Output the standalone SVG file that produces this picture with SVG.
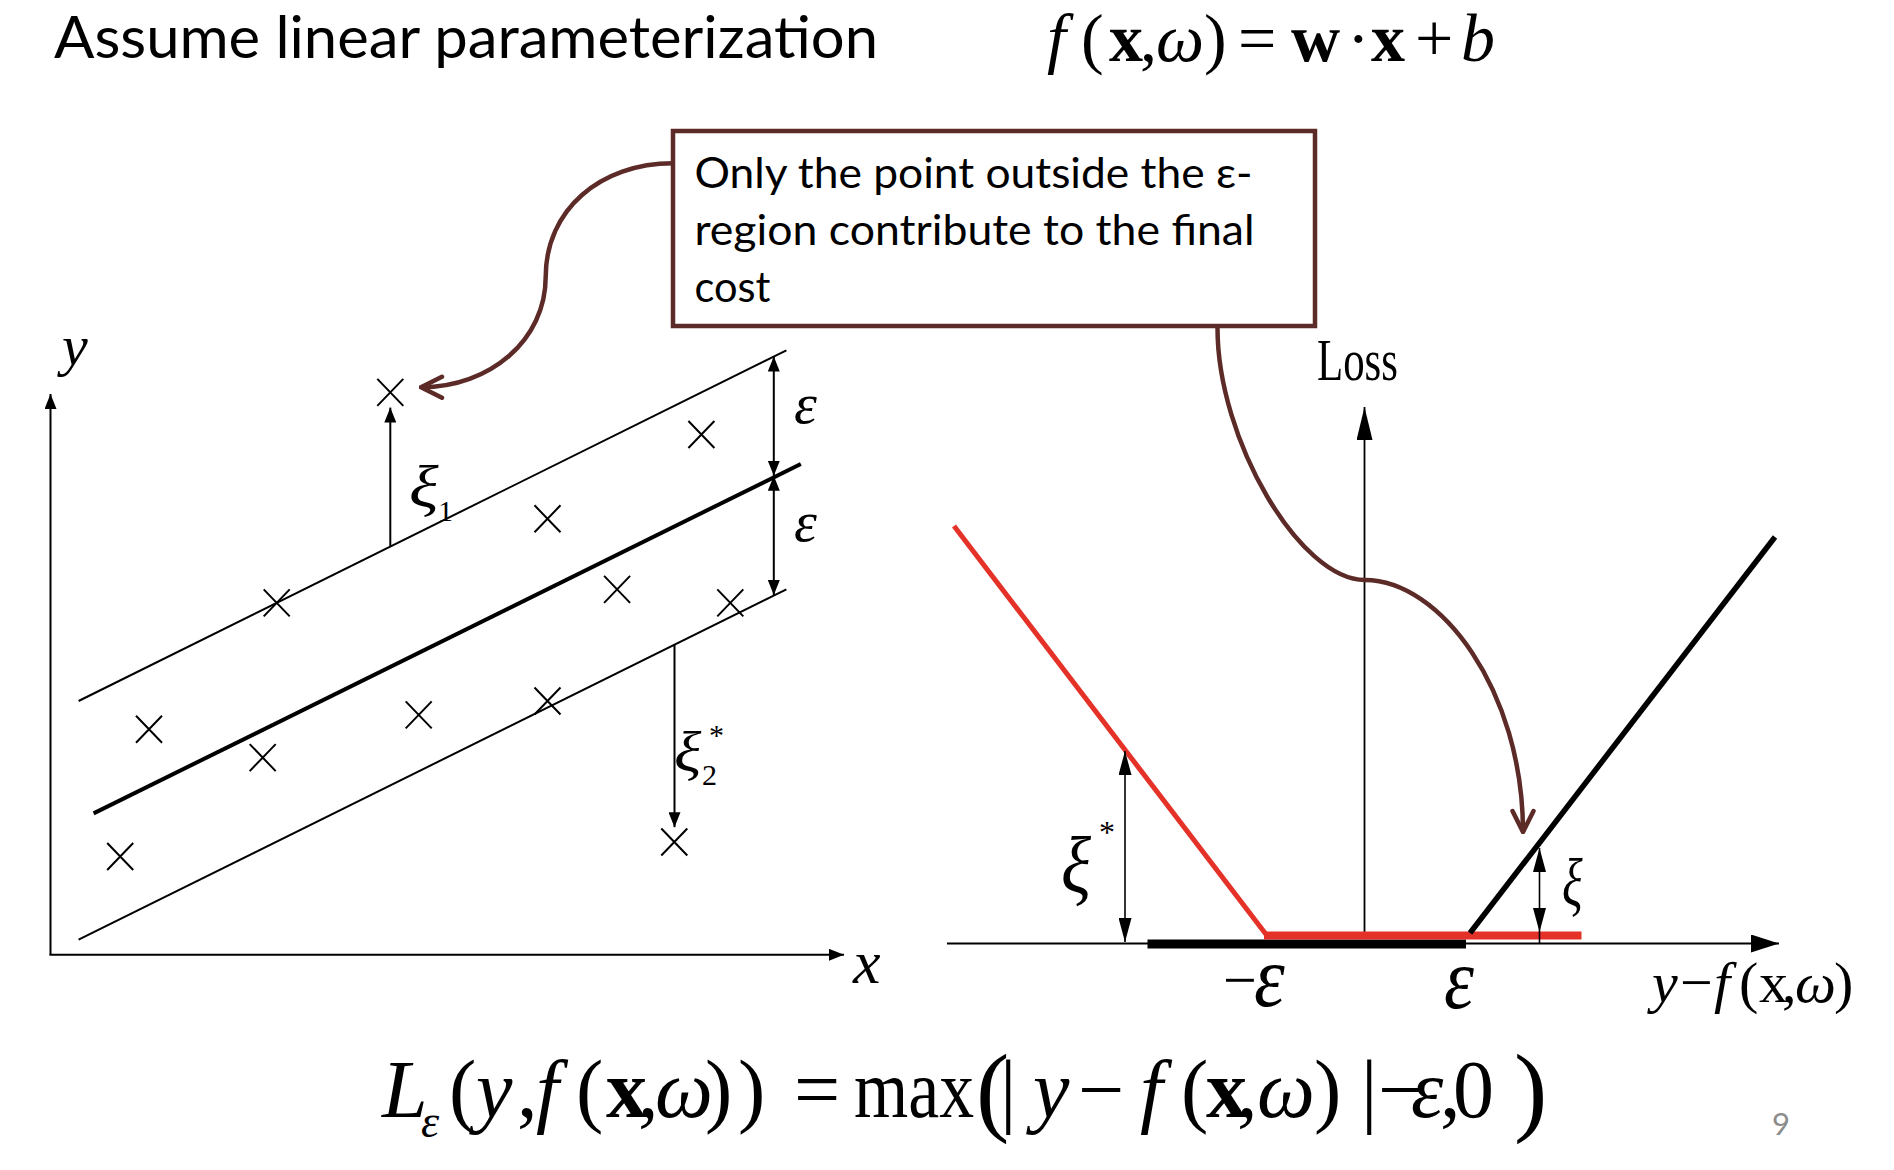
<svg xmlns="http://www.w3.org/2000/svg" width="1894" height="1170" viewBox="0 0 1894 1170">
<style>
.sans{font-family:Lato,"Open Sans","Liberation Sans",sans-serif;fill:#000}
.serif{font-family:"Liberation Serif","Times New Roman",serif;fill:#000}
.it{font-style:italic}
.bd{font-weight:bold}
.thin{stroke:#000;stroke-width:2;fill:none}
.thick{stroke:#000;stroke-width:4;fill:none}
.cross{stroke:#000;stroke-width:2;fill:none}
.brown{stroke:#5C2B27;stroke-width:4.5;fill:none}
.red{stroke:#E53228;fill:none}
</style>
<defs>
<marker id="ah" viewBox="0 0 15 12" refX="15" refY="6" markerWidth="15" markerHeight="12" markerUnits="userSpaceOnUse" orient="auto-start-reverse"><path d="M0,0 L15,6 L0,12 z" fill="#000"/></marker>
<marker id="ahR" viewBox="0 0 24 13" refX="24" refY="6.5" markerWidth="24" markerHeight="13" markerUnits="userSpaceOnUse" orient="auto-start-reverse"><path d="M0,0 L24,6.5 L0,13 z" fill="#000"/></marker>
<marker id="ahLoss" viewBox="0 0 33 16" refX="33" refY="8" markerWidth="33" markerHeight="16" markerUnits="userSpaceOnUse" orient="auto"><path d="M0,0 L33,8 L0,16 z" fill="#000"/></marker>
<marker id="ahX" viewBox="0 0 28 18" refX="28" refY="9" markerWidth="28" markerHeight="18" markerUnits="userSpaceOnUse" orient="auto"><path d="M0,0 L28,9 L0,18 z" fill="#000"/></marker>
<marker id="vee" viewBox="-24 -13 26 26" refX="0" refY="0" markerWidth="26" markerHeight="26" markerUnits="userSpaceOnUse" orient="auto"><path d="M-21,-10.5 L0,0 L-21,10.5" fill="none" stroke="#5C2B27" stroke-width="4.5" stroke-linecap="round"/></marker>
<path id="cr" d="M-13,-13.5 L13,13.5 M-13,13.5 L13,-13.5"/>
</defs>
<rect width="1894" height="1170" fill="#fff"/>

<g id="title">
<text class="sans" x="54" y="58" font-size="58" textLength="824" lengthAdjust="spacingAndGlyphs">Assume linear parameterization</text>
</g>

<g id="formula-top">
<text class="serif" x="1046" y="61" font-size="68">
<tspan class="it" x="1047">f</tspan><tspan x="1081">(</tspan><tspan class="bd" x="1109">x</tspan><tspan x="1140">,</tspan><tspan class="it" x="1156">ω</tspan><tspan x="1204">)</tspan><tspan x="1238">=</tspan><tspan class="bd" x="1291">w</tspan><tspan x="1347">·</tspan><tspan class="bd" x="1371">x</tspan><tspan x="1415">+</tspan><tspan class="it" x="1461">b</tspan>
</text>
</g>

<g id="note-box">
<rect x="673" y="131" width="642" height="195" fill="#fff" stroke="#5C2B27" stroke-width="4.5"/>
<text class="sans" x="694.5" y="188" font-size="42" textLength="558" lengthAdjust="spacingAndGlyphs">Only the point outside the ε-</text>
<text class="sans" x="694.5" y="245" font-size="42" textLength="560" lengthAdjust="spacingAndGlyphs">region contribute to the final</text>
<text class="sans" x="694.5" y="302" font-size="42" textLength="76" lengthAdjust="spacingAndGlyphs">cost</text>
</g>

<g id="left-plot">
<line class="thin" x1="50.5" y1="955" x2="50.5" y2="394" marker-end="url(#ah)" stroke-width="2.5"/>
<line class="thin" x1="49.5" y1="954.8" x2="844" y2="954.8" marker-end="url(#ah)" stroke-width="2.5"/>
<text class="serif it" x="62" y="365" font-size="58">y</text>
<text class="serif it" x="853" y="983" font-size="62">x</text>
<line class="thin" x1="78.6" y1="701" x2="786.4" y2="350.3"/>
<line class="thick" x1="93.6" y1="813.4" x2="800.8" y2="464"/>
<line class="thin" x1="78.6" y1="939.6" x2="786.4" y2="589.4"/>
<line class="thin" x1="773.8" y1="356.5" x2="773.8" y2="475.8" marker-start="url(#ah)" marker-end="url(#ah)"/>
<line class="thin" x1="773.8" y1="475.8" x2="773.8" y2="595.1" marker-start="url(#ah)" marker-end="url(#ah)"/>
<text class="serif it" x="794" y="423" font-size="58">ε</text>
<text class="serif it" x="794" y="541" font-size="58">ε</text>
<line class="thin" x1="390.3" y1="547" x2="390.3" y2="407.6" marker-end="url(#ah)"/>
<text class="serif it" transform="translate(409,507) scale(1.15,1)" font-size="60">ξ</text>
<text class="serif" x="438" y="521" font-size="30">1</text>
<line class="thin" x1="674.5" y1="644.3" x2="674.5" y2="827.2" marker-end="url(#ah)"/>
<text class="serif it" transform="translate(674,771) scale(1.1,1)" font-size="58">ξ</text>
<text class="serif" x="702" y="785" font-size="30">2</text>
<text class="serif" x="709" y="745" font-size="30">*</text>
<g class="cross">
<use href="#cr" x="390.3" y="392.4"/>
<use href="#cr" x="701.4" y="434.5"/>
<use href="#cr" x="547.5" y="518.8"/>
<use href="#cr" x="276.7" y="602.9"/>
<use href="#cr" x="617.1" y="589.4"/>
<use href="#cr" x="730.3" y="602.9"/>
<use href="#cr" x="149" y="729.3"/>
<use href="#cr" x="418.7" y="714.9"/>
<use href="#cr" x="547.5" y="701"/>
<use href="#cr" x="262.7" y="757.6"/>
<use href="#cr" x="120.2" y="856.5"/>
<use href="#cr" x="674.3" y="842"/>
</g>
</g>

<g id="right-plot">
<line x1="947" y1="943.5" x2="1779" y2="943.5" stroke="#000" stroke-width="2" marker-end="url(#ahX)"/>
<line x1="1147.5" y1="944" x2="1466" y2="944" stroke="#000" stroke-width="9"/>
<line x1="1364.5" y1="933" x2="1364.5" y2="407" stroke="#000" stroke-width="1.8" marker-end="url(#ahLoss)"/>
<line class="red" x1="1264" y1="935.5" x2="1581.5" y2="935.5" stroke-width="8"/>
<line class="red" x1="954" y1="526" x2="1266.5" y2="935" stroke-width="5"/>
<line x1="1470" y1="933" x2="1775" y2="537" stroke="#000" stroke-width="5.5"/>
<line x1="1125" y1="751" x2="1125" y2="942" stroke="#000" stroke-width="1.6" marker-start="url(#ahR)" marker-end="url(#ahR)"/>
<line x1="1539.5" y1="932" x2="1539.5" y2="943" stroke="#000" stroke-width="1.6"/>
<line x1="1539.5" y1="848" x2="1539.5" y2="932" stroke="#000" stroke-width="1.6" marker-start="url(#ahR)" marker-end="url(#ahR)"/>
<text class="serif" transform="translate(1317,380) scale(1,1.35)" font-size="44" textLength="81" lengthAdjust="spacingAndGlyphs">Loss</text>
<text class="serif it" transform="translate(1061,892) scale(1,1.16)" font-size="70">ξ</text>
<text class="serif" x="1099" y="843" font-size="32">*</text>
<text class="serif it" transform="translate(1562,906) scale(1,1.42)" font-size="48">ξ</text>
<text class="serif" x="1223" y="1000" font-size="60">−</text>
<text class="serif it" transform="translate(1254,1006) scale(1,1.12)" font-size="78">ε</text>
<text class="serif it" transform="translate(1444,1008) scale(1,1.15)" font-size="76">ε</text>
<text class="serif" x="1652" y="1002" font-size="58"><tspan class="it" x="1652">y</tspan><tspan x="1680">−</tspan><tspan class="it" x="1714">f</tspan><tspan x="1739">(</tspan><tspan x="1759">x</tspan><tspan x="1782">,</tspan><tspan class="it" x="1795">ω</tspan><tspan x="1834">)</tspan></text>
</g>

<g id="connectors">
<path class="brown" d="M673,163.3 C600,163.3 545.7,210 545.7,276.7 C545.7,340 490,387.3 421,387.3" marker-end="url(#vee)"/>
<path class="brown" d="M1217.5,328 C1217.5,440 1300,580 1365,580 C1440,580 1523,690 1523,832" marker-end="url(#vee)"/>
</g>

<g id="formula-bottom">
<text class="serif" x="382" y="1117" font-size="82">
<tspan class="it" x="382">L</tspan><tspan class="it" x="421" y="1137" font-size="46">ε</tspan><tspan x="449" y="1117">(</tspan><tspan class="it" x="476">y</tspan><tspan x="517">,</tspan><tspan class="it" x="536">f</tspan><tspan x="576">(</tspan><tspan class="bd" x="606">x</tspan><tspan x="638">,</tspan><tspan class="it" x="655">ω</tspan><tspan x="705">)</tspan><tspan x="738">)</tspan><tspan x="794">=</tspan><tspan x="854" textLength="120" lengthAdjust="spacingAndGlyphs">max</tspan><tspan x="976" font-size="100" y="1123">(</tspan><tspan x="1000" y="1117">|</tspan><tspan class="it" x="1033">y</tspan><tspan x="1078">−</tspan><tspan class="it" x="1140">f</tspan><tspan x="1181">(</tspan><tspan class="bd" x="1206">x</tspan><tspan x="1237">,</tspan><tspan class="it" x="1257">ω</tspan><tspan x="1314">)</tspan><tspan x="1361">|</tspan><tspan x="1378">−</tspan><tspan class="it" x="1411">ε</tspan><tspan x="1440">,</tspan><tspan x="1453">0</tspan><tspan x="1514" font-size="100" y="1123">)</tspan>
</text>
</g>

<g id="page-number">
<text class="sans" x="1772" y="1135" font-size="31" style="fill:#8c8c8c">9</text>
</g>
</svg>
